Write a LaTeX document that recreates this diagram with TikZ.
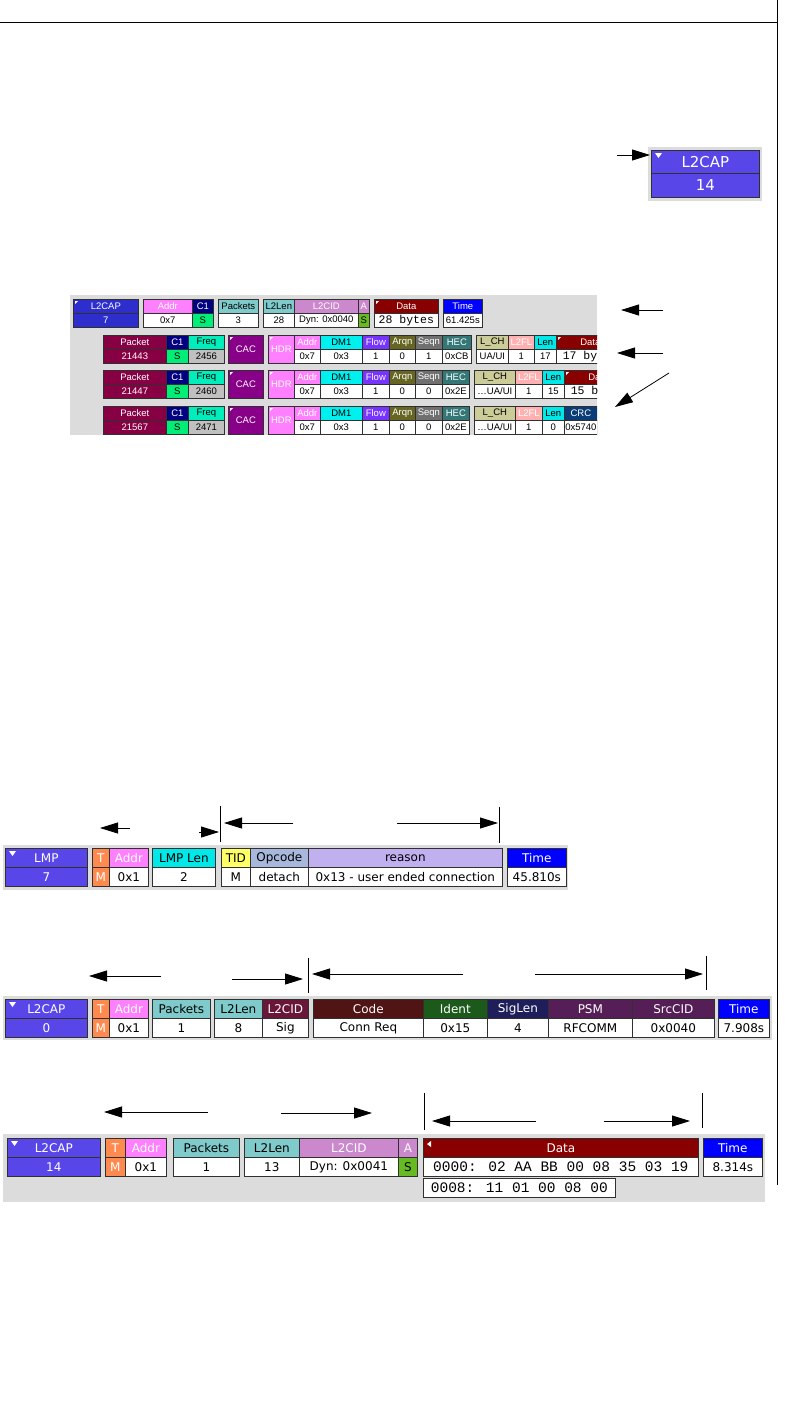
\documentclass[tikz,border=0pt]{standalone}
\usepackage{fontspec}
\setsansfont{DejaVu Sans}
\newfontfamily\monofont{Liberation Mono}
\newfontfamily\shotfont{Liberation Sans}
\usepackage{xcolor}
\usepackage{tikz}
\usetikzlibrary{arrows.meta}

\definecolor{shotgray}{HTML}{DCDCDC}
\definecolor{cellline}{HTML}{303030}
\definecolor{lmpblue}{HTML}{5846E8}
\definecolor{l2blue}{HTML}{2E2ECC}
\definecolor{torange}{HTML}{FF8A50}
\definecolor{addrpink}{HTML}{FF80FF}
\definecolor{pkteal}{HTML}{7FCACA}
\definecolor{cidorchid}{HTML}{CC88CC}
\definecolor{agreen}{HTML}{66BB22}
\definecolor{datared}{HTML}{880000}
\definecolor{timeblue}{HTML}{0000FF}
\definecolor{lencyan}{HTML}{00E8E8}
\definecolor{tidyellow}{HTML}{FFFF66}
\definecolor{opsteel}{HTML}{A8B8DC}
\definecolor{reasonlav}{HTML}{C0B0F0}
\definecolor{sigcid}{HTML}{6A1638}
\definecolor{codebrown}{HTML}{501414}
\definecolor{identgreen}{HTML}{1C5A1C}
\definecolor{signavy}{HTML}{1E1E5A}
\definecolor{psmpurple}{HTML}{561E56}
\definecolor{c1navy}{HTML}{000080}
\definecolor{sgreen}{HTML}{00EE77}
\definecolor{freqaqua}{HTML}{00EEBB}
\definecolor{freqgray}{HTML}{C0C0C0}
\definecolor{pktmaroon}{HTML}{880044}
\definecolor{cacpurple}{HTML}{880088}
\definecolor{dmcyan}{HTML}{00F0F0}
\definecolor{flowviolet}{HTML}{7733FF}
\definecolor{arqnolive}{HTML}{666622}
\definecolor{seqngray}{HTML}{707070}
\definecolor{hecteal}{HTML}{337777}
\definecolor{lchkhaki}{HTML}{CCCC99}
\definecolor{flpink}{HTML}{FFB0B0}
\definecolor{crcblue}{HTML}{0A3C78}

\newcommand{\hexdump}{\monofont\fontsize{14.5}{15}\selectfont}
\newcommand{\tinymono}{\monofont\fontsize{11.5}{12}\selectfont}

\tikzset{
    cell/.style={draw=cellline, line width=0.7pt, inner sep=0pt, anchor=north west,
        font=\sffamily\fontsize{12}{12}\selectfont},
    hdr/.style={cell, minimum height=19pt},
    val/.style={cell, minimum height=19pt, fill=white},
    thdr/.style={cell, minimum height=14pt, font=\shotfont\fontsize{9.5}{10}\selectfont},
    tval/.style={thdr, fill=white},
    note/.style={-{Triangle[length=18pt,width=11pt]}, line width=0.8pt},
    tick/.style={line width=0.8pt},
}

\begin{document}
\begin{tikzpicture}[x=1pt,y=-1pt]
\useasboundingbox (0,0) rectangle (792,1408);

% page rules
\draw[line width=0.9pt] (0,22) -- (777,22);
\draw[line width=0.9pt] (777,0) -- (777,1185);

% single L2CAP item
\fill[shotgray] (648,147) rectangle (762,201);
\node[cell, minimum width=108pt, minimum height=23pt, fill=lmpblue, text=white,
    font=\sffamily\fontsize{15}{15}\selectfont] (e-l2-h) at (651,150) {L2CAP};
\node[cell, minimum width=108pt, minimum height=24pt, fill=lmpblue, text=white,
    font=\sffamily\fontsize{15}{15}\selectfont] (e-l2-v) at (651,173) {14};

% expanded frame view
\begin{scope}
\clip (70,295) rectangle (597,435);
\fill[shotgray] (70,295) rectangle (597,435);

\foreach \n/\a/\b/\hd/\vl/\hf/\hx/\vf/\vx in {
    l2/73/138/L2CAP/7/l2blue/white/l2blue/white,
    addr/143/192/Addr/0x7/addrpink/white/white/black,
    c1/192/213/C1/S/c1navy/white/sgreen/black,
    pk/218/258/Packets/3/pkteal/black/white/black,
    len/263/294/L2Len/28/pkteal/black/white/black,
    cid/294/358/L2CID/{Dyn: 0x0040}/cidorchid/white/white/black,
    a/358/369/A/S/cidorchid/white/agreen/black,
    data/374/438/Data/{\tinymono 28 bytes}/datared/white/white/black,
    time/443/482/Time/61.425s/timeblue/white/white/black}
{
    \node[thdr, fill=\hf, text=\hx, minimum width={(\b-\a)*1pt}] (t-\n-h) at (\a,299) {\hd};
    \node[tval, fill=\vf, text=\vx, minimum width={(\b-\a)*1pt}] (t-\n-v) at (\a,313) {\vl};
}

\foreach \r/\y/\pk/\fq/\sq/\hv/\he in {
    1/335/21443/2456/1/0xCB/471,
    2/370/21447/2460/0/0x2E/469,
    3/406/21567/2471/0/0x2E/469}
{
    \foreach \n/\a/\b/\hd/\vl/\hf/\hx/\vf/\vx in {
        pkt/103/166/Packet/\pk/pktmaroon/white/pktmaroon/white,
        c1/166/188/C1/S/c1navy/white/sgreen/black,
        freq/188/224/Freq/\fq/freqaqua/black/freqgray/black,
        addr/294/320/Addr/0x7/addrpink/white/white/black,
        dm/320/362/DM1/0x3/dmcyan/black/white/black,
        flow/362/389/Flow/1/flowviolet/white/white/black,
        arqn/389/415/Arqn/0/arqnolive/white/white/black,
        seqn/415/442/Seqn/\sq/seqngray/white/white/black,
        hec/442/\he/HEC/\hv/hecteal/white/white/black}
    {
        \node[thdr, fill=\hf, text=\hx, minimum width={(\b-\a)*1pt}] (r\r-\n-h) at (\a,\y) {\hd};
        \node[tval, fill=\vf, text=\vx, minimum width={(\b-\a)*1pt}] (r\r-\n-v) at (\a,\y+14) {\vl};
    }
    \node[thdr, minimum width=35pt, minimum height=28pt, fill=cacpurple, text=white] (r\r-cac) at (228,\y) {CAC};
    \node[thdr, minimum width=26pt, minimum height=28pt, fill=addrpink, text=white] (r\r-hdr) at (268,\y) {HDR};
}

\foreach \n/\y/\a/\b/\hd/\vl/\hf/\hx in {
    r1-lch/335/476/508/L\_CH/{UA/UI}/lchkhaki/black,
    r1-fl/335/508/534/L2FL/1/flpink/white,
    r1-len/335/534/556/Len/17/lencyan/black,
    r1-data/335/556/624/Data/{\tinymono 17 bytes}/datared/white,
    r2-lch/370/474/515/L\_CH/{\ldots UA/UI}/lchkhaki/black,
    r2-fl/370/515/542/L2FL/1/flpink/white,
    r2-len/370/542/564/Len/15/lencyan/black,
    r2-data/370/564/632/Data/{\tinymono 15 bytes}/datared/white,
    r3-lch/406/474/515/L\_CH/{\ldots UA/UI}/lchkhaki/black,
    r3-fl/406/515/542/L2FL/1/flpink/white,
    r3-len/406/542/564/Len/0/lencyan/black,
    r3-crc/406/564/597/CRC/0x5740/crcblue/white}
{
    \node[thdr, fill=\hf, text=\hx, minimum width={(\b-\a)*1pt}] (\n-h) at (\a,\y) {\hd};
    \node[tval, minimum width={(\b-\a)*1pt}] (\n-v) at (\a,\y+14) {\vl};
}

\foreach \m in {t-l2-h, t-data-h, r1-cac, r1-hdr, r1-data-h, r2-cac, r2-hdr, r2-data-h, r3-cac, r3-hdr}
    \fill[white] ([shift={(2,2)}]\m.north west) -- ++(3,0) -- ++(-3,3) -- cycle;
\end{scope}

% LMP detach
\fill[shotgray] (3,845) rectangle (568,890);
\foreach \n/\a/\b/\hd/\vl/\hf/\hx/\vf/\vx in {
    lmp/5/87/LMP/7/lmpblue/white/lmpblue/white,
    t/92/109/T/M/torange/white/torange/white,
    addr/109/148/Addr/0x1/addrpink/white/white/black,
    len/152/215/LMP Len/2/lencyan/black/white/black,
    tid/221/250/TID/M/tidyellow/black/white/black,
    op/250/308/Opcode/detach/opsteel/black/white/black,
    rsn/308/502/reason/{0x13 - user ended connection}/reasonlav/black/white/black,
    time/507/566/Time/45.810s/timeblue/white/white/black}
{
    \node[hdr, fill=\hf, text=\hx, minimum width={(\b-\a)*1pt}] (a-\n-h) at (\a,848) {\hd};
    \node[val, fill=\vf, text=\vx, minimum width={(\b-\a)*1pt}] (a-\n-v) at (\a,867) {\vl};
}

% L2CAP connection request
\fill[shotgray] (3,996) rectangle (772,1040);
\foreach \n/\a/\b/\hd/\vl/\hf/\hx/\vf/\vx in {
    l2/5/87/L2CAP/0/lmpblue/white/lmpblue/white,
    t/92/109/T/M/torange/white/torange/white,
    addr/109/148/Addr/0x1/addrpink/white/white/black,
    pk/152/210/Packets/1/pkteal/black/white/black,
    len/214/262/L2Len/8/pkteal/black/white/black,
    cid/262/308/L2CID/Sig/sigcid/white/white/black,
    code/313/423/Code/Conn Req/codebrown/white/white/black,
    id/423/487/Ident/0x15/identgreen/white/white/black,
    sl/487/548/SigLen/4/signavy/white/white/black,
    psm/548/632/PSM/RFCOMM/psmpurple/white/white/black,
    src/632/714/SrcCID/0x0040/psmpurple/white/white/black,
    time/718/769/Time/7.908s/timeblue/white/white/black}
{
    \node[hdr, fill=\hf, text=\hx, minimum width={(\b-\a)*1pt}] (b-\n-h) at (\a,999) {\hd};
    \node[val, fill=\vf, text=\vx, minimum width={(\b-\a)*1pt}] (b-\n-v) at (\a,1018) {\vl};
}

% L2CAP data
\fill[shotgray] (3,1134) rectangle (765,1202);
\foreach \n/\a/\b/\hd/\vl/\hf/\hx/\vf/\vx in {
    l2/7/100/L2CAP/14/lmpblue/white/lmpblue/white,
    t/105/125/T/M/torange/white/torange/white,
    addr/125/166/Addr/0x1/addrpink/white/white/black,
    pk/173/239/Packets/1/pkteal/black/white/black,
    len/244/299/L2Len/13/pkteal/black/white/black,
    cid/299/398/L2CID/{Dyn: 0x0041}/cidorchid/white/white/black,
    a/398/417/A/S/cidorchid/white/agreen/black,
    data/423/698/Data/{\hexdump 0000: 02 AA BB 00 08 35 03 19}/datared/white/white/black,
    time/703/762/Time/8.314s/timeblue/white/white/black}
{
    \node[hdr, fill=\hf, text=\hx, minimum width={(\b-\a)*1pt}] (c-\n-h) at (\a,1138) {\hd};
    \node[val, fill=\vf, text=\vx, minimum width={(\b-\a)*1pt}] (c-\n-v) at (\a,1157) {\vl};
}
\node[val, minimum width=192pt] (c-data2-v) at (423,1178) {\hexdump 0008: 11 01 00 08 00};

% header markers
\foreach \m in {e-l2-h, a-lmp-h, b-l2-h, c-l2-h}
    \fill[white] ([shift={(4,3)}]\m.north west) -- ++(7,0) -- ++(-3.5,5) -- cycle;
\fill[white] ([shift={(4,6)}]c-data-h.north west) -- ++(4,-3) -- ++(0,6) -- cycle;

% pointers
\foreach \n/\xa/\ya/\xb/\yb in {
    e1/617/155/650/155,
    t1/663/310/621/310,
    t2/663/353/617/353,
    t3/669/373/615/407,
    a1/130/828/100/828,
    a2/199/832/219/832,
    a3/293/823/224/823,
    a4/397/823/498/823,
    b1/161/976/89/976,
    b2/232/979/303/979,
    b3/463/974/312/974,
    b4/535/974/703/974,
    c1/208/1112/104/1112,
    c2/281/1113/372/1113,
    c3/536/1121/432/1121,
    c4/604/1121/690/1121}
{
    \coordinate (\n-s) at (\xa,\ya);
    \coordinate (\n-e) at (\xb,\yb);
    \draw[note] (\n-s) -- (\n-e);
}

% span marks
\foreach \x/\ya/\yb in {220/806/842, 499/807/843, 308/958/993, 706/956/990, 424/1093/1130, 702/1093/1128}
    \draw[tick] (\x,\ya) -- (\x,\yb);

\end{tikzpicture}
\end{document}
